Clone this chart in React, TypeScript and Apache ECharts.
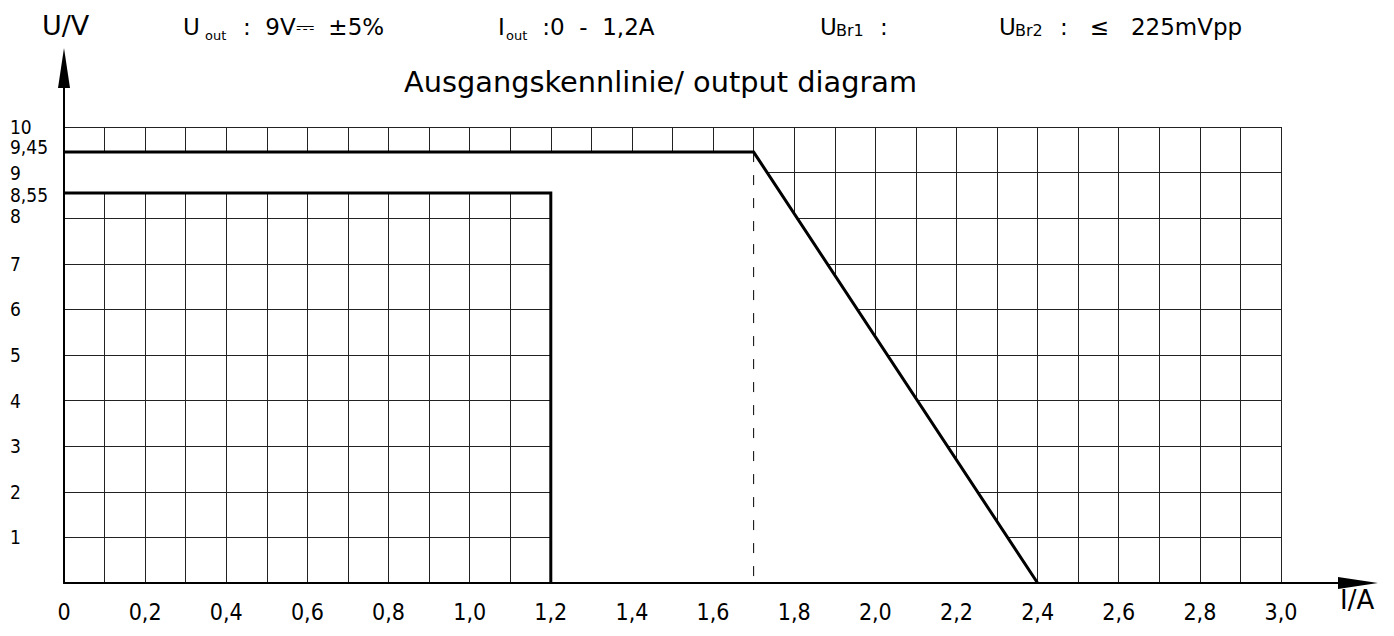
import React, { useEffect, useRef } from "react";
import * as echarts from "echarts";

// ---- data ----
const xLabelValues = [0, 0.2, 0.4, 0.6, 0.8, 1.0, 1.2, 1.4, 1.6, 1.8, 2.0, 2.2, 2.4, 2.6, 2.8, 3.0];
const yLabelValues = [1, 2, 3, 4, 5, 6, 7, 8, 8.55, 9, 9.45, 10];
const outputCurve = [[0, 9.45], [1.7, 9.45], [2.4, 0]];
const limitRect = [[0, 8.55], [1.2, 8.55], [1.2, 0]];
const foldbackMarker = [[1.7, 9.45], [1.7, 0]];
const blankRegion = [[0, 8.55], [0, 9.45], [1.7, 9.45], [2.4, 0], [1.2, 0], [1.2, 8.55]];

const NARROW = '"Liberation Sans Narrow", "DejaVu Sans Condensed", "Roboto Condensed", sans-serif';
const WIDE = '"DejaVu Sans", "Noto Sans", sans-serif';
const Y_FS = 19;

function fmtNum(v: number): string {
  if (Math.abs(v) < 1e-9) return "0";
  const r = Math.round(v * 100) / 100;
  return r.toString().replace(".", ",");
}

export default function App() {
  const ref = useRef<HTMLDivElement>(null);
  useEffect(() => {
    if (!ref.current) return;
    const chart = echarts.init(ref.current, undefined, { renderer: "svg" });
    const txt = (text: string, x: number, y: number, size: number, font = WIDE) => ({
      type: "text",
      x,
      y,
      silent: true,
      style: { text, fontSize: size, fontFamily: font, fill: "#000", textAlign: "left", textVerticalAlign: "middle" },
    });
    const yRich = (pad: number[]) => ({ fontFamily: NARROW, fontSize: Y_FS, lineHeight: Y_FS, color: "#000", padding: pad });
    chart.setOption({
      animation: false,
      backgroundColor: "#fff",
      grid: [
        { left: 64, top: 127, right: 113, bottom: 53 },
        { left: 64, top: 68, right: 36, bottom: 53 },
      ],
      xAxis: [
        {
          type: "value",
          gridIndex: 0,
          min: 0,
          max: 3,
          interval: 0.1,
          axisLine: { show: false },
          axisTick: { show: false },
          splitLine: { show: true, lineStyle: { color: "#222", width: 1 } },
          axisLabel: {
            customValues: xLabelValues,
            formatter: (v: number) => (Math.abs(v) < 1e-9 ? "0" : v.toFixed(1).replace(".", ",")),
            fontFamily: NARROW,
            fontSize: 23,
            color: "#000",
            margin: 17,
            showMaxLabel: true,
            showMinLabel: true,
          },
        },
        {
          type: "value",
          gridIndex: 1,
          min: 0,
          max: 1,
          z: 10,
          axisLine: {
            show: true,
            symbol: ["none", "triangle"],
            symbolSize: [12, 40],
            lineStyle: { color: "#000", width: 2 },
          },
          axisTick: { show: false },
          axisLabel: { show: false },
          splitLine: { show: false },
        },
      ],
      yAxis: [
        {
          type: "value",
          gridIndex: 0,
          min: 0,
          max: 10,
          interval: 1,
          axisLine: { show: false },
          axisTick: { show: false },
          splitLine: { show: true, lineStyle: { color: "#222", width: 1 } },
          axisLabel: {
            customValues: yLabelValues,
            showMaxLabel: true,
            showMinLabel: true,
            align: "left",
            margin: 54,
            fontFamily: NARROW,
            fontSize: Y_FS,
            lineHeight: Y_FS,
            color: "#000",
            formatter: (v: number) => {
              const s = fmtNum(v);
              if (Math.abs(v - 9.45) < 1e-6) return "{up|" + s + "}";
              if (Math.abs(v - 8.55) < 1e-6) return "{dn|" + s + "}";
              if (Math.abs(v - 8) < 1e-6) return "{up2|" + s + "}";
              return s;
            },
            rich: {
              up: yRich([0, 0, 10, 0]),
              dn: yRich([4, 0, 0, 0]),
              up2: yRich([0, 0, 4, 0]),
            },
          },
        },
        {
          type: "value",
          gridIndex: 1,
          min: 0,
          max: 1,
          z: 10,
          axisLine: {
            show: true,
            symbol: ["none", "triangle"],
            symbolSize: [12, 40],
            lineStyle: { color: "#000", width: 2 },
          },
          axisTick: { show: false },
          axisLabel: { show: false },
          splitLine: { show: false },
        },
      ],
      graphic: [
        txt("U/V", 42, 25, 27),
        txt("U", 183, 27, 23),
        txt("out", 205, 35, 13),
        txt(":  9V⎓  ±5%", 243, 27, 23),
        txt("I", 498, 27, 23),
        txt("out", 506, 35, 13),
        txt(" :0  -  1,2A", 535, 27, 23),
        txt("U", 820, 27, 23),
        txt("Br1", 836, 30, 16),
        txt(":", 880, 27, 23),
        txt("U", 999, 27, 23),
        txt("Br2", 1015, 30, 16),
        txt(":   ≤   225mVpp", 1060, 27, 23),
        txt("Ausgangskennlinie/ output diagram", 404, 82, 28.8),
        txt("I/A", 1340, 600, 26),
      ],
      series: [
        {
          type: "custom",
          name: "blank",
          xAxisIndex: 0,
          yAxisIndex: 0,
          silent: true,
          z: 1,
          clip: false,
          data: [[0, 0]],
          renderItem: (_params: any, api: any) => ({
            type: "polygon",
            shape: { points: blankRegion.map((p) => api.coord(p)) },
            style: { fill: "#fff", stroke: "none" },
          }),
        },
        {
          type: "line",
          name: "dashed",
          xAxisIndex: 0,
          yAxisIndex: 0,
          data: foldbackMarker,
          symbol: "none",
          silent: true,
          z: 3,
          lineStyle: { color: "#000", width: 1, type: [10, 13] },
        },
        {
          type: "line",
          name: "limit",
          xAxisIndex: 0,
          yAxisIndex: 0,
          data: limitRect,
          symbol: "none",
          silent: true,
          z: 4,
          lineStyle: { color: "#000", width: 3, join: "miter" },
        },
        {
          type: "line",
          name: "output",
          xAxisIndex: 0,
          yAxisIndex: 0,
          data: outputCurve,
          symbol: "none",
          silent: true,
          z: 4,
          lineStyle: { color: "#000", width: 3, join: "miter" },
        },
      ],
    });
    return () => chart.dispose();
  }, []);
  return <div ref={ref} style={{ position: "fixed", left: 0, top: 0, width: 1394, height: 636 }} />;
}
